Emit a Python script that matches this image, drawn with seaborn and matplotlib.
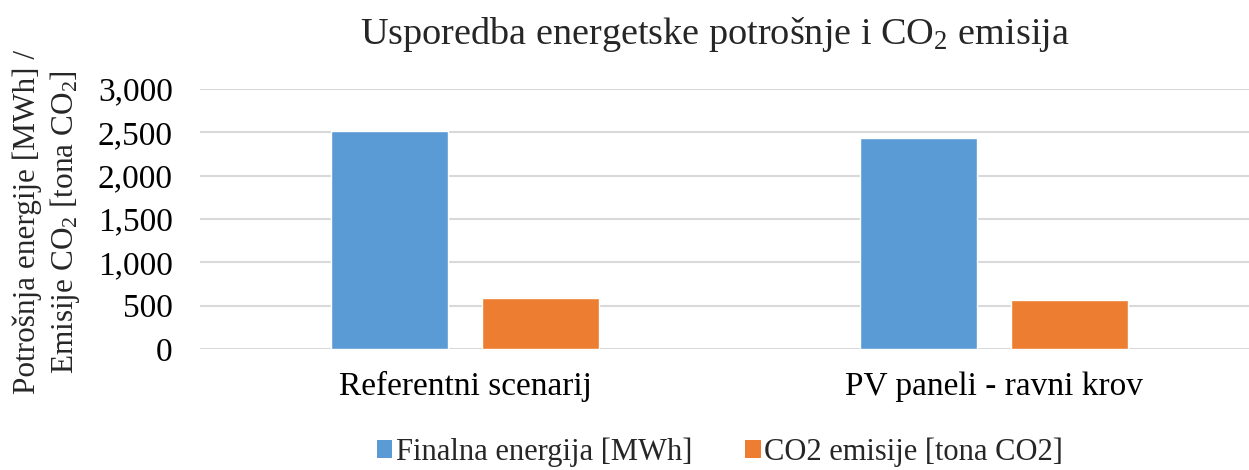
import matplotlib
matplotlib.use("Agg")
import matplotlib.pyplot as plt
import seaborn as sns
import pandas as pd
from matplotlib.ticker import StrMethodFormatter, MultipleLocator
from matplotlib.patches import Patch

categories = ["Referentni scenarij", "PV paneli - ravni krov"]
series_names = ["Finalna energija [MWh]", "CO2 emisije [tona CO2]"]
finalna_energija = [2515, 2435]
co2_emisije = [586, 571]
colors = ["#5B9BD5", "#ED7D31"]

rows = []
for c, v in zip(categories, finalna_energija):
    rows.append({"scenario": c, "series": series_names[0], "value": v})
for c, v in zip(categories, co2_emisije):
    rows.append({"scenario": c, "series": series_names[1], "value": v})
df = pd.DataFrame(rows)

sns.set_theme(style="white")
plt.rcParams["font.family"] = ["Liberation Serif", "DejaVu Serif"]
plt.rcParams["mathtext.fontset"] = "custom"
plt.rcParams["mathtext.rm"] = "Liberation Serif"
plt.rcParams["mathtext.it"] = "Liberation Serif:italic"
plt.rcParams["mathtext.bf"] = "Liberation Serif:bold"

W, H = 1249, 470
fig = plt.figure(figsize=(W / 100, H / 100), dpi=100)
left, right, bottom, top = 200.5, 1258.5, 349, 89
ax = fig.add_axes([left / W, 1 - bottom / H, (right - left) / W, (bottom - top) / H])

sns.barplot(data=df, x="scenario", y="value", hue="series", order=categories,
            hue_order=series_names, palette=colors, width=0.57, gap=0.22,
            saturation=1, errorbar=None, ax=ax, legend=False, zorder=3)

ax.set_xlim(-0.5, 1.5)
ax.set_ylim(0, 3000)
ax.yaxis.set_major_locator(MultipleLocator(500))
ax.yaxis.set_major_formatter(StrMethodFormatter("{x:,.0f}"))
ax.grid(axis="y", color="#D9D9D9", linewidth=1.5, zorder=0)
ax.grid(axis="x", visible=False)
for s in ax.spines.values():
    s.set_visible(False)
ax.tick_params(axis="both", length=0, labelsize=24, colors="black")
ax.tick_params(axis="y", pad=20)
ax.tick_params(axis="x", pad=16)
ax.set_xlabel("")
ax.set_ylabel("Potrošnja energije [MWh] /\nEmisije CO$_2$ [tona CO$_2$]", fontsize=22.5,
              linespacing=1.25)
ax.yaxis.set_label_coords((82 - left) / (right - left), 0.49)

fig.text(715 / W, 1 - 35 / H, "Usporedba energetske potrošnje i CO$_2$ emisija",
         ha="center", va="center", fontsize=27.5)

handles = [Patch(facecolor=c, edgecolor="none") for c in colors]
fig.legend(handles, series_names, loc="center", bbox_to_anchor=(720 / W, 1 - 452 / H),
           ncol=2, frameon=False, fontsize=22, handlelength=0.5, handleheight=0.5,
           handletextpad=0.12, columnspacing=1.75, borderaxespad=0)

fig.savefig("out.png", dpi=100)
